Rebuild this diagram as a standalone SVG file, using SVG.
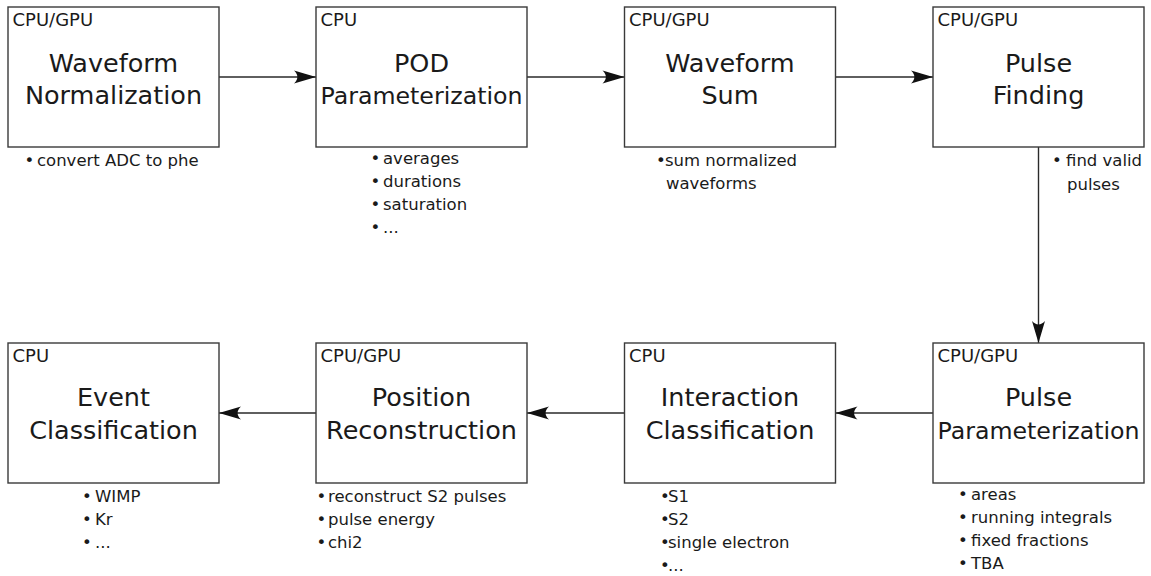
<svg xmlns="http://www.w3.org/2000/svg" width="1151" height="576" viewBox="0 0 1151 576">
<style>
text{font-family:"DejaVu Sans","Noto Sans",sans-serif;fill:#1a1a1a}
.box{fill:#fff;stroke:#3a3a3a;stroke-width:1.4}
.hw{font-size:18px}
.t{font-size:25.5px;text-anchor:middle}
.tp{font-size:23.7px}
.b{font-size:16.5px}
.conn{stroke:#2a2a2a;stroke-width:1.4;fill:none;marker-end:url(#ah)}
</style>
<defs>
<marker id="ah" markerUnits="userSpaceOnUse" orient="auto" refX="0" refY="0" viewBox="-23 -8 24 16" markerWidth="24" markerHeight="16" overflow="visible">
<path d="M0,0 L-22,-6.5 C-17.5,-2.5 -17.5,2.5 -22,6.5 Z" fill="#111"/>
</marker>
</defs>
<rect width="1151" height="576" fill="#fff"/>
<g id="connectors">
<line class="conn" x1="219" y1="77" x2="316" y2="77"/>
<line class="conn" x1="527" y1="77" x2="624.5" y2="77"/>
<line class="conn" x1="835.5" y1="77" x2="933" y2="77"/>
<line class="conn" x1="1038.5" y1="147" x2="1038.5" y2="343"/>
<line class="conn" x1="933" y1="413" x2="835.5" y2="413"/>
<line class="conn" x1="624.5" y1="413" x2="527" y2="413"/>
<line class="conn" x1="316" y1="413" x2="219" y2="413"/>
</g>
<g id="n1">
<rect class="box" x="8" y="7" width="211" height="140"/>
<text class="hw" x="12.5" y="26">CPU/GPU</text>
<text class="t" x="113.5" y="72">Waveform</text>
<text class="t" x="113.5" y="104">Normalization</text>
<text class="b" y="166"><tspan x="24.5">•</tspan><tspan x="37">convert ADC to phe</tspan></text>
</g>
<g id="n2">
<rect class="box" x="316" y="7" width="211" height="140"/>
<text class="hw" x="320.5" y="26">CPU</text>
<text class="t" x="421.5" y="72">POD</text>
<text class="t tp" x="421.5" y="104">Parameterization</text>
<text class="b" y="164"><tspan x="370.5">•</tspan><tspan x="383">averages</tspan></text>
<text class="b" y="187"><tspan x="370.5">•</tspan><tspan x="383">durations</tspan></text>
<text class="b" y="210"><tspan x="370.5">•</tspan><tspan x="383">saturation</tspan></text>
<text class="b" y="233"><tspan x="370.5">•</tspan><tspan x="383">...</tspan></text>
</g>
<g id="n3">
<rect class="box" x="624.5" y="7" width="211" height="140"/>
<text class="hw" x="629" y="26">CPU/GPU</text>
<text class="t" x="730" y="72">Waveform</text>
<text class="t" x="730" y="104">Sum</text>
<text class="b" y="166"><tspan x="656">•</tspan><tspan x="665">sum normalized</tspan></text>
<text class="b" x="666" y="189">waveforms</text>
</g>
<g id="n4">
<rect class="box" x="933" y="7" width="211" height="140"/>
<text class="hw" x="937.5" y="26">CPU/GPU</text>
<text class="t" x="1038.5" y="72">Pulse</text>
<text class="t" x="1038.5" y="104">Finding</text>
<text class="b" y="166"><tspan x="1052">•</tspan><tspan x="1066">find valid</tspan></text>
<text class="b" x="1067" y="190">pulses</text>
</g>
<g id="n5">
<rect class="box" x="933" y="343" width="211" height="140"/>
<text class="hw" x="937.5" y="362">CPU/GPU</text>
<text class="t" x="1038.5" y="406">Pulse</text>
<text class="t tp" x="1038.5" y="439">Parameterization</text>
<text class="b" y="500"><tspan x="958">•</tspan><tspan x="971">areas</tspan></text>
<text class="b" y="523"><tspan x="958">•</tspan><tspan x="971">running integrals</tspan></text>
<text class="b" y="546"><tspan x="958">•</tspan><tspan x="971">fixed fractions</tspan></text>
<text class="b" y="569"><tspan x="958">•</tspan><tspan x="971">TBA</tspan></text>
</g>
<g id="n6">
<rect class="box" x="624.5" y="343" width="211" height="140"/>
<text class="hw" x="629" y="362">CPU</text>
<text class="t" x="730" y="406">Interaction</text>
<text class="t" x="730" y="439">Classification</text>
<text class="b" y="502"><tspan x="660">•</tspan><tspan x="668">S1</tspan></text>
<text class="b" y="525"><tspan x="660">•</tspan><tspan x="668">S2</tspan></text>
<text class="b" y="548"><tspan x="660">•</tspan><tspan x="668">single electron</tspan></text>
<text class="b" y="571"><tspan x="660">•</tspan><tspan x="668">...</tspan></text>
</g>
<g id="n7">
<rect class="box" x="316" y="343" width="211" height="140"/>
<text class="hw" x="320.5" y="362">CPU/GPU</text>
<text class="t" x="421.5" y="406">Position</text>
<text class="t" x="421.5" y="439">Reconstruction</text>
<text class="b" y="502"><tspan x="316.5">•</tspan><tspan x="328">reconstruct S2 pulses</tspan></text>
<text class="b" y="525"><tspan x="316.5">•</tspan><tspan x="328">pulse energy</tspan></text>
<text class="b" y="548"><tspan x="316.5">•</tspan><tspan x="328">chi2</tspan></text>
</g>
<g id="n8">
<rect class="box" x="8" y="343" width="211" height="140"/>
<text class="hw" x="12.5" y="362">CPU</text>
<text class="t" x="113.5" y="406">Event</text>
<text class="t" x="113.5" y="439">Classification</text>
<text class="b" y="502"><tspan x="82">•</tspan><tspan x="95">WIMP</tspan></text>
<text class="b" y="525"><tspan x="82">•</tspan><tspan x="95">Kr</tspan></text>
<text class="b" y="548"><tspan x="82">•</tspan><tspan x="95">...</tspan></text>
</g>
</svg>
